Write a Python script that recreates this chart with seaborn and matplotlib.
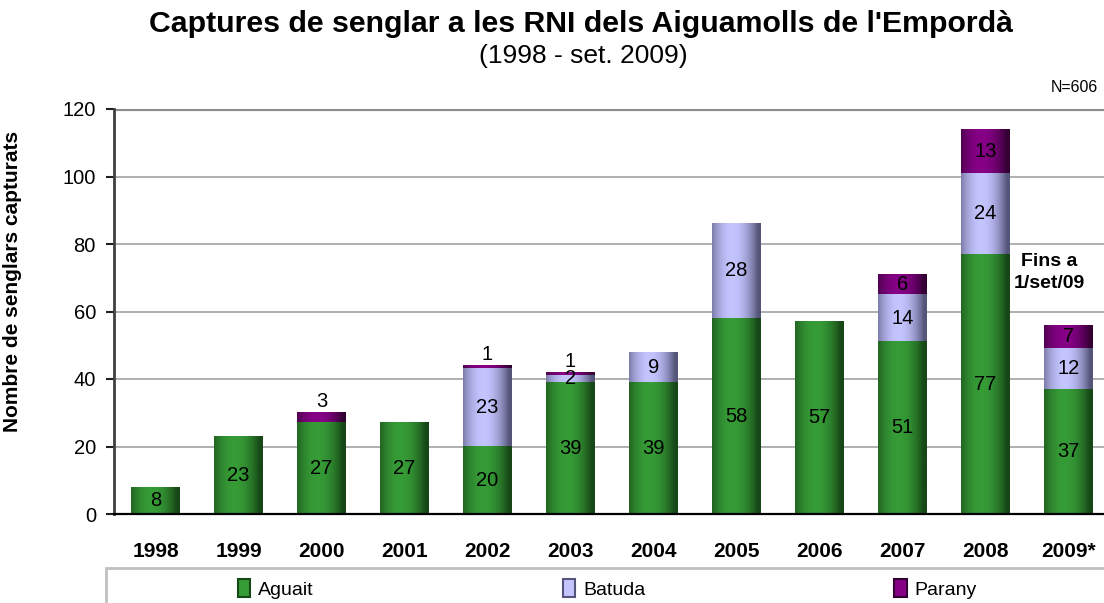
"""Captures de senglar a les RNI dels Aiguamolls de l'Empordà."""

import matplotlib
matplotlib.use("Agg")
import matplotlib.pyplot as plt
import matplotlib.colors as mcolors
from matplotlib.patches import Patch, Rectangle
import numpy as np
import pandas as pd
import seaborn as sns

years = ["1998", "1999", "2000", "2001", "2002", "2003", "2004", "2005", "2006", "2007", "2008", "2009*"]
aguait = [8, 23, 27, 27, 20, 39, 39, 58, 57, 51, 77, 37]
batuda = [0, 0, 0, 0, 23, 2, 9, 28, 0, 14, 24, 12]
parany = [0, 0, 3, 0, 1, 1, 0, 0, 0, 6, 13, 7]
series = ["Aguait", "Batuda", "Parany"]

# (fosc, clar) per a cada sèrie
colors = {
    "Aguait": ("#174617", "#369c36"),
    "Batuda": ("#55557a", "#c4c4ff"),
    "Parany": ("#340034", "#860086"),
}

df = pd.DataFrame({"year": years, "Aguait": aguait, "Batuda": batuda, "Parany": parany})
df["cum_a"] = df["Aguait"]
df["cum_b"] = df["Aguait"] + df["Batuda"]
df["cum_p"] = df["cum_b"] + df["Parany"]

sns.set_style("white")
plt.rcParams["font.family"] = ["Liberation Sans", "DejaVu Sans"]
plt.rcParams["text.color"] = "black"
plt.rcParams["axes.labelcolor"] = "black"
plt.rcParams["xtick.color"] = "black"
plt.rcParams["ytick.color"] = "black"

fig = plt.figure(figsize=(11.04, 6.03), dpi=100)
ax = fig.add_axes([114 / 1104, 89 / 603, 996 / 1104, 405 / 603])

layers = [("Parany", "cum_p"), ("Batuda", "cum_b"), ("Aguait", "cum_a")]
layer_patches = {}
for name, col in layers:
    n0 = len(ax.patches)
    sns.barplot(data=df, x="year", y=col, order=years, color=colors[name][1],
                width=0.58, ax=ax, linewidth=0, saturation=1)
    layer_patches[name] = ax.patches[n0:]

# degradat horitzontal (efecte cilindre)
t = np.linspace(0, 1, 256)
s = np.clip(1 - ((t - 0.42) / 0.52) ** 2, 0, 1)
for k, (name, col) in enumerate(layers):
    dark = np.array(mcolors.to_rgb(colors[name][0]))
    light = np.array(mcolors.to_rgb(colors[name][1]))
    img = (dark[None, :] + (light - dark)[None, :] * s[:, None])[None, :, :]
    for p in layer_patches[name]:
        if p.get_height() <= 0:
            continue
        x0, w, h = p.get_x(), p.get_width(), p.get_height()
        ax.imshow(img, extent=[x0, x0 + w, 0, h], aspect="auto",
                  interpolation="bilinear", zorder=2.1 + 0.1 * k)

ax.set_xlim(-0.5, len(years) - 0.5)
ax.set_ylim(0, 120)
ax.set_yticks(range(0, 121, 20))

# etiquetes de valor
for i in range(len(years)):
    a, b, p = aguait[i], batuda[i], parany[i]
    ax.text(i, a / 2, str(a), ha="center", va="center", fontsize=14.5, zorder=5)
    if b > 0:
        ax.text(i, a + b / 2, str(b), ha="center", va="center", fontsize=14.5, zorder=5)
    if p > 0:
        if p < 4:
            ax.text(i, a + b + p + 3.3, str(p), ha="center", va="center", fontsize=14.5, zorder=5)
        else:
            ax.text(i, a + b + p / 2, str(p), ha="center", va="center", fontsize=14.5, zorder=5)

ax.text(10.77, 71.5, "Fins a\n1/set/09", ha="center", va="center", fontsize=14,
        fontweight="bold", linespacing=1.4, zorder=5)

# graella i eixos
ax.grid(False)
for v in range(20, 101, 20):
    ax.axhline(v, color="#9a9a9a", lw=1.1, zorder=1)
ax.axhline(120, color="#8c8c8c", lw=3, zorder=1)
for side in ["top", "right"]:
    ax.spines[side].set_visible(False)
ax.spines["left"].set_color("#404040")
ax.spines["left"].set_linewidth(2)
ax.spines["bottom"].set_color("black")
ax.spines["bottom"].set_linewidth(1.6)
ax.spines["bottom"].set_zorder(6)

ax.set_xlabel("")
ax.tick_params(axis="x", which="major", length=0, pad=20, labelsize=15)
for lab in ax.get_xticklabels():
    lab.set_fontweight("bold")
ax.set_xticks(np.arange(-0.5, len(years), 1), minor=True)
ax.tick_params(axis="x", which="minor", length=8, width=1.2, color="black", direction="out")
ax.tick_params(axis="y", length=6, width=1.5, color="#202020", direction="out",
               pad=7, labelsize=14.5, left=True)

ax.set_ylabel("Nombre de senglars capturats", fontsize=15, fontweight="bold")
ax.yaxis.set_label_coords(-0.092, 0.573)

# títols
fig.text(0.526, 1 - 24 / 603, "Captures de senglar a les RNI dels Aiguamolls de l'Empordà",
         ha="center", va="center", fontsize=21.8, fontweight="bold")
fig.text(0.528, 1 - 56 / 603, "(1998 - set. 2009)", ha="center", va="center", fontsize=19)
fig.text(1098 / 1104, 1 - 87 / 603, "N=606", ha="right", va="center", fontsize=11.5)

# llegenda
fig.patches.append(Rectangle((106 / 1104, -0.05), 1.0, (603 - 568) / 603 + 0.05,
                             transform=fig.transFigure, facecolor="white",
                             edgecolor="#c0c0c0", linewidth=2))
handles = [Patch(facecolor=colors[n][1], edgecolor=colors[n][0], linewidth=1.5) for n in series]
fig.legend(handles, series, loc="center left", bbox_to_anchor=(228 / 1104, 1 - 589 / 603),
           ncol=3, frameon=False, fontsize=14, handlelength=0.65, handleheight=1.0,
           handletextpad=0.4, columnspacing=12.8, borderpad=0)

fig.savefig("out.png", dpi=100)
